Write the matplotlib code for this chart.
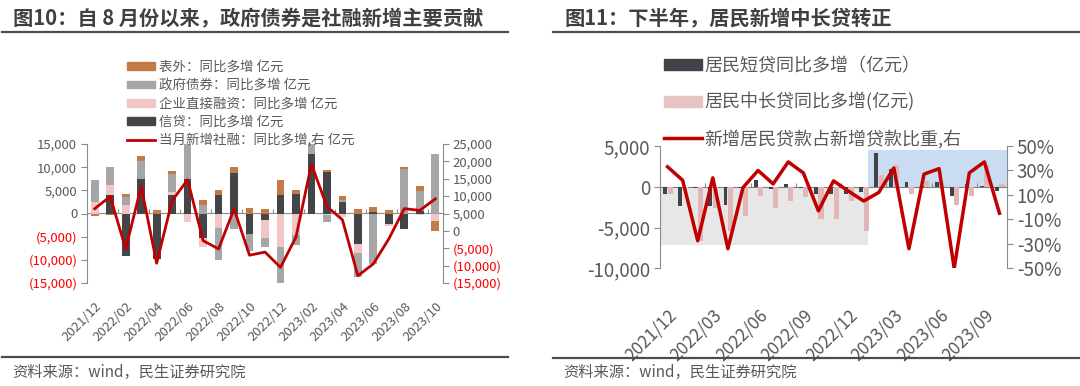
import numpy as np
import matplotlib.pyplot as plt
from matplotlib.patches import Patch
from matplotlib.lines import Line2D

plt.rcParams['font.family'] = ['Noto Sans CJK SC', 'DejaVu Sans']

GRAY_TXT = '#595959'
RED_TXT = '#FF0000'
SPINE = '#8C8C8C'

months = ['2021/12', '2022/01', '2022/02', '2022/03', '2022/04', '2022/05',
          '2022/06', '2022/07', '2022/08', '2022/09', '2022/10', '2022/11',
          '2022/12', '2023/01', '2023/02', '2023/03', '2023/04', '2023/05',
          '2023/06', '2023/07', '2023/08', '2023/09', '2023/10']

# 图10 社融分项同比多增 (亿元)
xindai = [0, 3900, -9100, 7500, -9800, 3900, 7500, -5200, 4100, 8800, -4500, -1500,
          4000, 4200, 12900, 8900, 2400, -6600, 400, -2200, -3400, 600, 0]
qiye = [2400, 2200, 1900, 0, 0, 700, -1900, -2000, -3200, 0, 0, -3700,
        -7300, -4600, 0, -400, -800, -1900, 0, -400, 0, -400, -1700]
zhengfu = [4800, 4000, 1700, 3800, 0, 4000, 7600, 1900, -6800, -3300, -3600, -2000,
           -7700, -2100, 2200, -1500, 500, -5100, -10900, 0, 9600, 4300, 12800]
biaowai = [-600, -300, 700, 1200, 700, 500, 0, 1100, 1000, 1200, 1200, 900,
           3200, 900, 0, 400, 900, 900, 1000, 850, 400, 1000, -2100]
shehui = [6400, 9900, -5200, 12800, -9300, 8700, 14700, -2800, -5200, 6300, -7000, -6100,
          -10500, -1800, 19200, 7000, 3200, -12900, -9500, -2300, 6400, 5900, 9200]

# 图11 居民贷款
duandai = [-900, -2300, -200, -2300, -2200, -100, 800, -300, 400, -100, -900, -900,
           -900, -700, 4100, 2200, 600, 100, 600, -1100, 400, 100, -500]
zhongchang = [-900, -200, -6600, -2600, -5400, -3600, -1100, -2600, -1800, -1300, -4000, -3900,
              -1700, -5400, 1500, 2700, -900, 700, 600, -2200, -1100, 2700, 400]
jumin_ratio = [33, 22, -27.5, 24, -34, 16, 30, 19, 37, 28, -3, 21.5,
               13, 5, 12, 32, -34, 27, 31.5, -50, 28, 37, -5]

n = len(months)
x = np.arange(n)


def money_fmt(v, paren=True):
    if v < 0:
        return '({:,.0f})'.format(-v) if paren else '-{:,.0f}'.format(-v)
    return '{:,.0f}'.format(v)


def style_yaxis(ax, side, ticks, labels, size, red_neg):
    ax.set_yticks(ticks, labels=labels)
    ax.tick_params(axis='y', direction='out', length=4, color=SPINE, labelsize=size,
                   labelcolor=GRAY_TXT, pad=3)
    if red_neg:
        for t, v in zip(ax.get_yticklabels(), ticks):
            if v < 0:
                t.set_color(RED_TXT)
    for s in ['top', 'bottom', 'left', 'right']:
        ax.spines[s].set_visible(s == side)
    ax.spines[side].set_color(SPINE)


fig = plt.figure(figsize=(10.8, 3.86), dpi=100)

# ---------------- 左图 ----------------
ax1 = fig.add_axes([87 / 1080, 1 - 283 / 386, 356 / 1080, 139 / 386])
ax1b = ax1.twinx()

series = [(xindai, '#434547'),
          (qiye, '#F2C6C6'),
          (zhengfu, '#A6A6A6'),
          (biaowai, '#C27B45')]
pos_base = np.zeros(n)
neg_base = np.zeros(n)
for vals, c in series:
    v = np.array(vals, dtype=float)
    base = np.where(v >= 0, pos_base, neg_base)
    ax1.bar(x, v, bottom=base, width=0.5, color=c, zorder=2)
    pos_base += np.clip(v, 0, None)
    neg_base += np.clip(v, None, 0)

ax1b.plot(x, shehui, color='#C00000', lw=2, zorder=5)

ax1.set_xlim(-0.5, n - 0.5)
ax1.set_ylim(-15000, 15000)
ax1b.set_ylim(-15000, 25000)
lt = list(range(-15000, 15001, 5000))
style_yaxis(ax1, 'left', lt, [money_fmt(v) for v in lt], 9.5, True)
rt = list(range(-15000, 25001, 5000))
style_yaxis(ax1b, 'right', rt, [money_fmt(v) for v in rt], 9.5, True)

ax1.set_xticks(x[::2], labels=months[::2], rotation=45, ha='right', va='top',
               rotation_mode='anchor')
ax1.tick_params(axis='x', length=0, pad=12, labelsize=9.5, labelcolor=GRAY_TXT)
ax1b.tick_params(axis='x', length=0)

z1 = ax1.secondary_xaxis(0.5)
z1.set_xticks(np.arange(1.5, n - 1, 2))
z1.tick_params(axis='x', direction='out', length=3, color=SPINE, labeltop=False,
               labelbottom=False)
for s in z1.spines.values():
    s.set_color(SPINE)

h1 = [Patch(color='#C27B45'), Patch(color='#A6A6A6'), Patch(color='#F2C6C6'),
      Patch(color='#434547'), Line2D([], [], color='#C00000', lw=2)]
l1 = ['表外：同比多增 亿元', '政府债券：同比多增 亿元', '企业直接融资：同比多增 亿元',
      '信贷：同比多增 亿元', '当月新增社融：同比多增,右 亿元']
fig.legend(h1, l1, loc='upper left', bbox_to_anchor=(127 / 1080, 1 - 60 / 386),
           frameon=False, fontsize=9.7, labelcolor=GRAY_TXT, handlelength=2.1,
           handleheight=0.5, handletextpad=0.3, labelspacing=0.32, borderpad=0,
           borderaxespad=0)

# ---------------- 右图 ----------------
ax2 = fig.add_axes([660 / 1080, 1 - 268.3 / 386, 347 / 1080, 122.3 / 386])
ax2b = ax2.twinx()

ax2.fill_between([-0.5, 13.3], -7200, 0, color='#E7E7E7', lw=0, zorder=0)
ax2.fill_between([13.3, n - 0.5], 0, 4500, color='#C9DCF1', lw=0, zorder=0)
ax2.bar(x - 0.16, duandai, width=0.26, color='#404347', zorder=2)
ax2.bar(x + 0.17, zhongchang, width=0.34, color='#E2B6B6', zorder=2)
ax2b.plot(x, jumin_ratio, color='#C00000', lw=2.5, zorder=5)

ax2.set_xlim(-0.5, n - 0.5)
ax2.set_ylim(-10000, 5000)
ax2b.set_ylim(-50, 50)
lt2 = [-10000, -5000, 0, 5000]
style_yaxis(ax2, 'left', lt2, [money_fmt(v, False) for v in lt2], 13.5, False)
rt2 = [-50, -30, -10, 10, 30, 50]
style_yaxis(ax2b, 'right', rt2, ['{}%'.format(v) for v in rt2], 13.5, False)

ax2.set_xticks(x[::3], labels=months[::3], rotation=45, ha='right', va='top',
               rotation_mode='anchor')
ax2.tick_params(axis='x', length=0, pad=27, labelsize=12.5, labelcolor=GRAY_TXT)
ax2b.tick_params(axis='x', length=0)

z2 = ax2.secondary_xaxis(2 / 3)
z2.set_xticks(np.arange(2.5, n - 1, 3))
z2.tick_params(axis='x', direction='out', length=3, color=SPINE, labeltop=False,
               labelbottom=False)
for s in z2.spines.values():
    s.set_color('#7F7F7F')

h2 = [Patch(color='#404347'), Patch(color='#E8C3C3'), Line2D([], [], color='#C00000', lw=2.5)]
l2 = ['居民短贷同比多增（亿元）', '居民中长贷同比多增(亿元)', '新增居民贷款占新增贷款比重,右']
fig.legend(h2, l2, loc='upper left', bbox_to_anchor=(664 / 1080, 1 - 57 / 386),
           frameon=False, fontsize=13, labelcolor=GRAY_TXT, handlelength=2.1,
           handleheight=0.55, handletextpad=0.15, labelspacing=0.98, borderpad=0,
           borderaxespad=0)

# ---------------- 标题与来源 ----------------
fig.text(13 / 1080, 1 - 19 / 386, '图10：自 8 月份以来，政府债券是社融新增主要贡献',
         fontsize=14.6, weight='bold', color='#404040', va='center')
fig.text(565 / 1080, 1 - 19 / 386, '图11：下半年，居民新增中长贷转正',
         fontsize=14.6, weight='bold', color='#404040', va='center')
for x0, x1, y in [(2, 508, 32), (553, 1080, 32), (2, 508, 356.5), (553, 1080, 357.5)]:
    fig.add_artist(Line2D([x0 / 1080, x1 / 1080], [1 - y / 386] * 2, color='#4D4D4D', lw=1.6))
fig.text(12 / 1080, 1 - 372 / 386, '资料来源：wind，民生证券研究院', fontsize=11,
         color=GRAY_TXT, va='center')
fig.text(563 / 1080, 1 - 372 / 386, '资料来源：wind，民生证券研究院', fontsize=11,
         color=GRAY_TXT, va='center')

fig.savefig('out.png', dpi=100)
